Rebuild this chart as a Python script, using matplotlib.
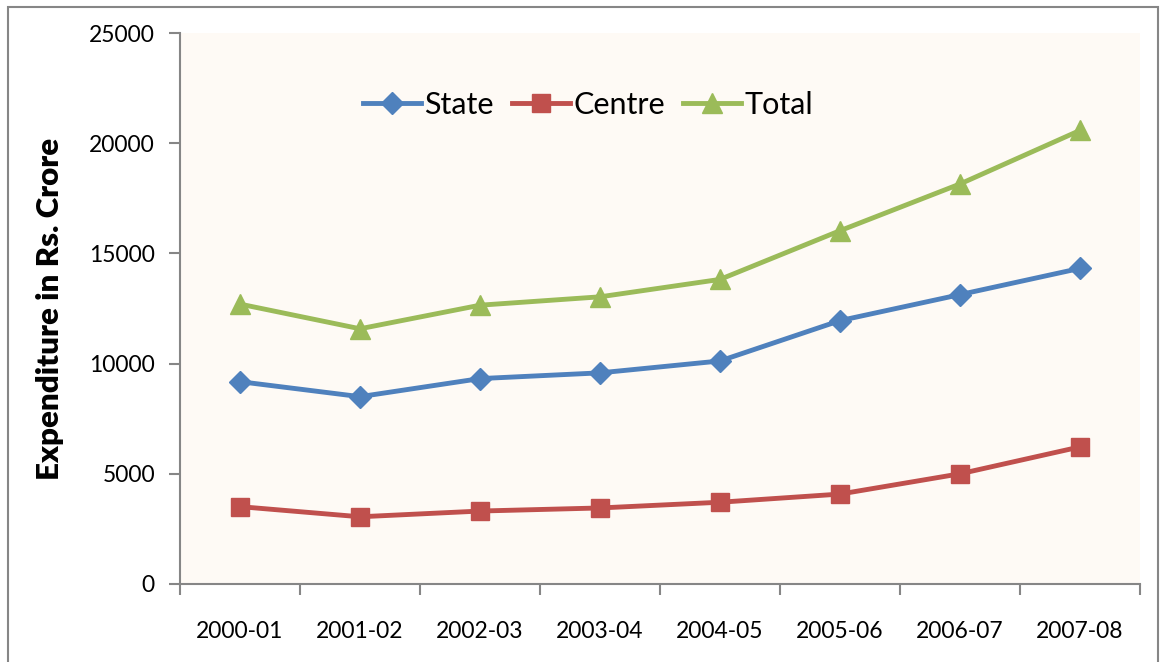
import matplotlib.pyplot as plt
from matplotlib.patches import Rectangle
import numpy as np

# Expenditure in Rs. Crore
years = ['2000-01', '2001-02', '2002-03', '2003-04', '2004-05', '2005-06', '2006-07', '2007-08']
state = [9180, 8500, 9320, 9580, 10120, 11950, 13130, 14320]
centre = [3510, 3050, 3310, 3450, 3710, 4080, 5000, 6220]
total = [12700, 11580, 12650, 13030, 13820, 16030, 18150, 20580]

plt.rcParams['font.family'] = ['Lato', 'DejaVu Sans']

fig = plt.figure(figsize=(11.64, 6.62), dpi=100)
ax = fig.add_axes([180 / 1164, 1 - 584 / 662, 960 / 1164, 551 / 662])
ax.set_facecolor('#fefaf5')

# outer chart frame
fig.patches.append(Rectangle((8 / 1164, -0.05), 1150 / 1164, 1.05 - 7 / 662,
                             transform=fig.transFigure, fill=False,
                             edgecolor='#868686', linewidth=1.5))

x = np.arange(len(years))
ax.plot(x, state, color='#4f81bd', lw=3.5, marker='D', ms=11, label='State')
ax.plot(x, centre, color='#c0504d', lw=3.5, marker='s', ms=13, label='Centre')
ax.plot(x, total, color='#9bbb59', lw=3.5, marker='^', ms=14, label='Total')

ax.set_xlim(-0.5, len(years) - 0.5)
ax.set_ylim(0, 25000)
ax.set_yticks(range(0, 25001, 5000))

ax.set_xticks(np.arange(-0.5, len(years), 1))
ax.set_xticklabels([])
ax.set_xticks(x, minor=True)
ax.set_xticklabels(years, minor=True)
ax.tick_params(axis='x', which='major', direction='out', length=8, color='#868686', width=1.5)
ax.tick_params(axis='x', which='minor', length=0, pad=27, labelsize=16.5)
ax.tick_params(axis='y', direction='out', length=8, color='#868686', width=1.5, labelsize=16.5, pad=10)

for s in ['top', 'right']:
    ax.spines[s].set_visible(False)
for s in ['left', 'bottom']:
    ax.spines[s].set_color('#868686')
    ax.spines[s].set_linewidth(1.5)

ax.set_ylabel('Expenditure in Rs. Crore', fontsize=22.5, fontweight='heavy', labelpad=18)

ax.legend(loc='upper center', bbox_to_anchor=(0.425, 0.945), ncol=3, frameon=False,
          fontsize=22, handlelength=1.9, handletextpad=0.1, columnspacing=0.6)

fig.savefig('out.png', dpi=100)
